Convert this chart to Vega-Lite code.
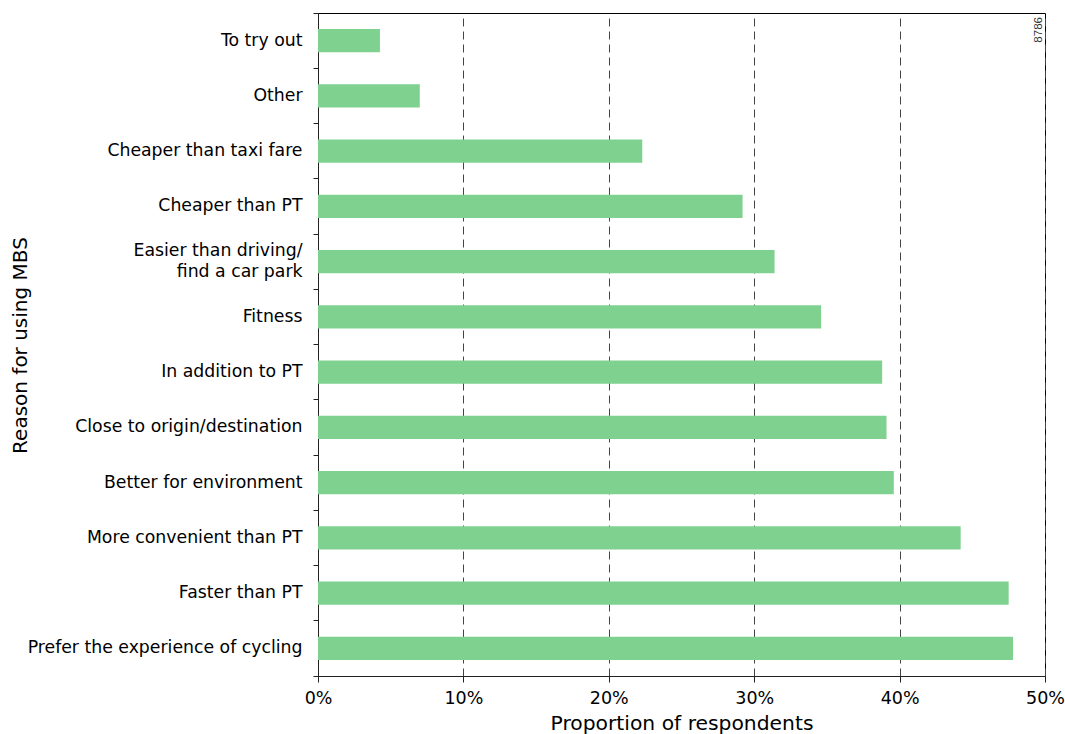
{
  "$schema": "https://vega.github.io/schema/vega-lite/v6.json",
  "width": 727,
  "height": 663,
  "autosize": "none",
  "padding": {"left": 318, "top": 13, "right": 20, "bottom": 58},
  "background": "white",
  "config": {
    "font": "DejaVu Sans",
    "view": {"stroke": "black", "strokeWidth": 1},
    "axis": {"labelFont": "DejaVu Sans", "titleFont": "DejaVu Sans", "labelColor": "black", "titleColor": "black", "domainColor": "#222", "tickColor": "#222", "titleFontWeight": "normal"}
  },
  "data": {
    "values": [
      {"reason": "To try out", "share": 0.0426},
      {"reason": "Other", "share": 0.070},
      {"reason": "Cheaper than taxi fare", "share": 0.223},
      {"reason": "Cheaper than PT", "share": 0.292},
      {"reason": "Easier than driving/ find a car park", "share": 0.314},
      {"reason": "Fitness", "share": 0.346},
      {"reason": "In addition to PT", "share": 0.388},
      {"reason": "Close to origin/destination", "share": 0.391},
      {"reason": "Better for environment", "share": 0.396},
      {"reason": "More convenient than PT", "share": 0.442},
      {"reason": "Faster than PT", "share": 0.475},
      {"reason": "Prefer the experience of cycling", "share": 0.478}
    ]
  },
  "layer": [
    {
      "mark": {"type": "bar", "color": "#7fd18f", "height": {"band": 0.42}},
      "encoding": {
        "y": {
          "field": "reason", "type": "nominal", "sort": null,
          "scale": {"paddingInner": 0, "paddingOuter": 0},
          "axis": {
            "title": "Reason for using MBS",
            "titleFontSize": 20,
            "titleX": -292,
            "titleY": 332,
            "titleAngle": -90,
            "titleBaseline": "alphabetic",
            "labelFontSize": 17.3,
            "labelPadding": 11,
            "labelLimit": 400,
            "labelLineHeight": 21,
            "labelOffset": {"condition": {"test": "datum.value == 'Easier than driving/ find a car park'", "value": -11}, "value": 0},
            "labelExpr": "datum.value == 'Easier than driving/ find a car park' ? ['Easier than driving/', 'find a car park'] : datum.value",
            "bandPosition": 1,
            "tickExtra": true,
            "tickSize": 5,
            "grid": false
          }
        },
        "x": {
          "field": "share", "type": "quantitative",
          "scale": {"domain": [0, 0.5], "nice": false},
          "axis": {
            "title": "Proportion of respondents",
            "titleFontSize": 20.3,
            "titlePadding": 7,
            "format": ".0%",
            "values": [0, 0.1, 0.2, 0.3, 0.4, 0.5],
            "labelFontSize": 17.5,
            "labelPadding": 7,
            "labelFlush": false,
            "tickSize": 6,
            "grid": true,
            "gridDash": [8, 5],
            "gridColor": "#444",
            "gridWidth": 1
          }
        }
      }
    },
    {
      "data": {"values": [{"reason": "To try out", "share": 0.5, "code": "8786"}]},
      "mark": {"type": "text", "angle": 270, "align": "left", "baseline": "alphabetic", "fontSize": 11.5, "font": "Liberation Sans", "color": "#333", "dx": -2, "dy": -3},
      "encoding": {
        "y": {"field": "reason", "type": "nominal", "sort": null},
        "x": {"field": "share", "type": "quantitative"},
        "text": {"field": "code"}
      }
    }
  ]
}
